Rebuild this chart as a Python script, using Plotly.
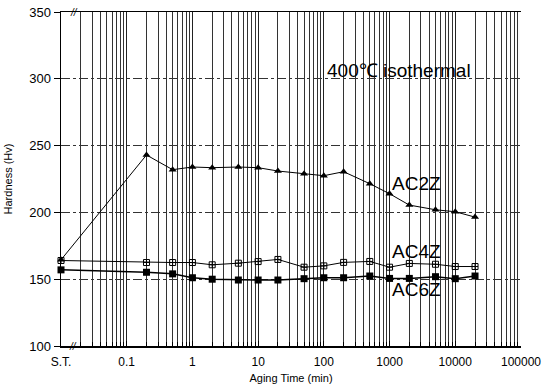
import numpy as np
import plotly.graph_objects as go

# ---- data ----
times = [0.01, 0.2, 0.5, 1, 2, 5, 10, 20, 50, 100, 200, 500, 1000, 2000, 5000, 10000, 20000]
ac2z = [164.5, 243, 232, 234, 233.5, 234, 233.5, 231, 229, 227.5, 230.5, 221.5, 214, 205.5, 202, 200.5, 196.5]
ac4z = [164, 162.5, 162.5, 162.5, 160.8, 162, 163.2, 164.8, 159, 160, 162.6, 163.3, 159, 161.8, 161.2, 159.5, 159.5]
ac6z = [157, 155.2, 154, 151.1, 150, 149.4, 149.4, 149.4, 150.4, 151.1, 151.1, 152.4, 150.6, 150.6, 151.9, 150.4, 152.4]

x_tickvals = [0.01, 0.1, 1, 10, 100, 1000, 10000, 100000]
x_ticktext = ["S.T.", "0.1", "1", "10", "100", "1000", "10000", "100000"]
y_tickvals = [100, 150, 200, 250, 300, 350]

minor_vals = [m * 10.0 ** e for e in range(-2, 5) for m in range(2, 10)]

FONT = "Liberation Sans, Arial, sans-serif"

fig = go.Figure()
line_style = dict(color="black", width=1)
fig.add_trace(go.Scatter(x=times, y=ac2z, mode="lines+markers", name="AC2Z",
                         line=line_style, cliponaxis=False,
                         marker=dict(symbol="triangle-up", size=7, color="black")))
fig.add_trace(go.Scatter(x=times, y=ac4z, mode="lines+markers", name="AC4Z",
                         line=line_style, cliponaxis=False,
                         marker=dict(symbol="square-cross-open", size=6, color="black",
                                     line=dict(width=1, color="black"))))
fig.add_trace(go.Scatter(x=times, y=ac6z, mode="lines+markers", name="AC6Z",
                         line=dict(color="black", width=1.5), cliponaxis=False,
                         marker=dict(symbol="square", size=7, color="black")))

ann_font = dict(family=FONT, size=19, color="black")
brk_font = dict(family=FONT, size=10, color="black")
annotations = [
    dict(x=np.log10(1400), y=306.5, xref="x", yref="y", text="400℃ isothermal",
         showarrow=False, font=ann_font),
    dict(x=np.log10(2600), y=221.5, xref="x", yref="y", text="AC2Z",
         showarrow=False, font=ann_font),
    dict(x=np.log10(2600), y=170.5, xref="x", yref="y", text="AC4Z",
         showarrow=False, font=ann_font),
    dict(x=np.log10(2600), y=142, xref="x", yref="y", text="AC6Z",
         showarrow=False, font=ann_font),
    dict(x=0.012, y=0.0, xref="paper", yref="paper", text="<i>//</i>",
         yanchor="middle", showarrow=False, font=brk_font),
    dict(x=0.016, y=1.0, xref="paper", yref="paper", text="<i>//</i>",
         yanchor="middle", showarrow=False, font=brk_font),
]

fig.update_layout(
    width=542, height=390,
    margin=dict(l=61, r=21, t=12, b=44, autoexpand=False),
    paper_bgcolor="white", plot_bgcolor="white",
    showlegend=False,
    hovermode=False,
    font=dict(family=FONT, size=12, color="black"),
    annotations=annotations,
    xaxis=dict(
        type="log", range=[-2, 5.0005],
        tickvals=x_tickvals, ticktext=x_ticktext,
        tickfont=dict(size=12),
        ticklabeloverflow="allow", ticklabelstandoff=4,
        ticks="inside", ticklen=5, tickcolor="black",
        showline=True, linecolor="black", linewidth=1.5, mirror=True,
        showgrid=True, gridcolor="#222", gridwidth=1,
        minor=dict(tickvals=minor_vals, showgrid=True, gridcolor="#333",
                   gridwidth=1, ticks="inside", ticklen=4, tickcolor="black"),
        title=dict(text="Aging Time (min)", font=dict(size=11), standoff=6),
        automargin=False,
        zeroline=False,
    ),
    yaxis=dict(
        range=[100, 350.05],
        tickvals=y_tickvals,
        tickfont=dict(size=13),
        ticklabeloverflow="allow",
        ticks="outside", ticklen=6, tickcolor="black",
        showline=True, linecolor="black", linewidth=1.5, mirror=False,
        showgrid=True, gridcolor="#333", gridwidth=1, griddash="dashdot",
        title=dict(text="Hardness (Hv)", font=dict(size=11), standoff=14),
        automargin=False,
        zeroline=False,
    ),
)

# remove the browser's default 8px page margin so the figure fills the window
fig.write_html("out.html", config={"displayModeBar": False, "staticPlot": True},
               post_script="document.body.style.margin='0';")
